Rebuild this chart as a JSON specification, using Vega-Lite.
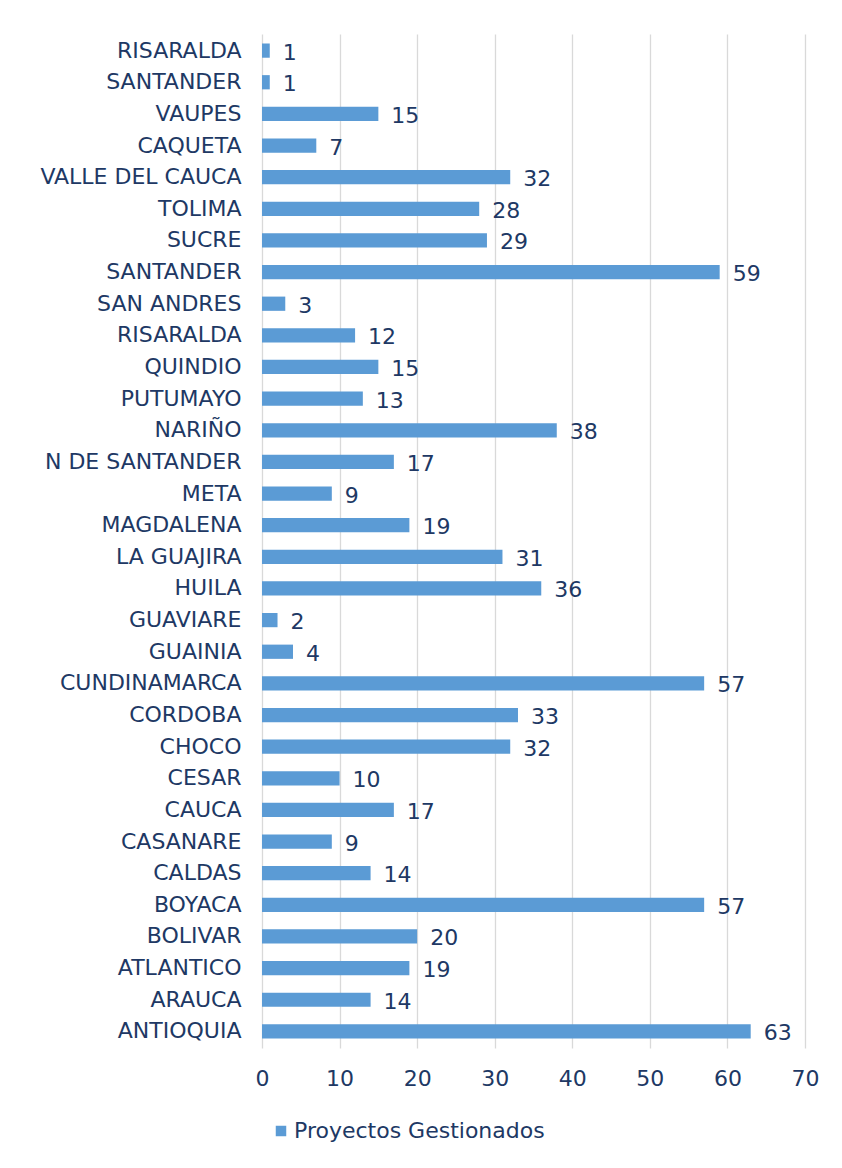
{
  "$schema": "https://vega.github.io/schema/vega-lite/v6.json",
  "autosize": "none",
  "width": 543,
  "height": 1014,
  "padding": {"left": 262, "top": 34, "right": 37, "bottom": 120},
  "background": "white",
  "config": {
    "font": "DejaVu Sans",
    "view": {"stroke": null},
    "axis": {"labelColor": "#203864", "labelFont": "DejaVu Sans"}
  },
  "data": {
    "values": [
      {"id": 1, "depto": "RISARALDA\u2002", "proyectos": 1},
      {"id": 2, "depto": "SANTANDER\u2002", "proyectos": 1},
      {"id": 3, "depto": "VAUPES", "proyectos": 15},
      {"id": 4, "depto": "CAQUETA", "proyectos": 7},
      {"id": 5, "depto": "VALLE DEL CAUCA", "proyectos": 32},
      {"id": 6, "depto": "TOLIMA", "proyectos": 28},
      {"id": 7, "depto": "SUCRE", "proyectos": 29},
      {"id": 8, "depto": "SANTANDER", "proyectos": 59},
      {"id": 9, "depto": "SAN ANDRES", "proyectos": 3},
      {"id": 10, "depto": "RISARALDA", "proyectos": 12},
      {"id": 11, "depto": "QUINDIO", "proyectos": 15},
      {"id": 12, "depto": "PUTUMAYO", "proyectos": 13},
      {"id": 13, "depto": "NARIÑO", "proyectos": 38},
      {"id": 14, "depto": "N DE SANTANDER", "proyectos": 17},
      {"id": 15, "depto": "META", "proyectos": 9},
      {"id": 16, "depto": "MAGDALENA", "proyectos": 19},
      {"id": 17, "depto": "LA GUAJIRA", "proyectos": 31},
      {"id": 18, "depto": "HUILA", "proyectos": 36},
      {"id": 19, "depto": "GUAVIARE", "proyectos": 2},
      {"id": 20, "depto": "GUAINIA", "proyectos": 4},
      {"id": 21, "depto": "CUNDINAMARCA", "proyectos": 57},
      {"id": 22, "depto": "CORDOBA", "proyectos": 33},
      {"id": 23, "depto": "CHOCO", "proyectos": 32},
      {"id": 24, "depto": "CESAR", "proyectos": 10},
      {"id": 25, "depto": "CAUCA", "proyectos": 17},
      {"id": 26, "depto": "CASANARE", "proyectos": 9},
      {"id": 27, "depto": "CALDAS", "proyectos": 14},
      {"id": 28, "depto": "BOYACA", "proyectos": 57},
      {"id": 29, "depto": "BOLIVAR", "proyectos": 20},
      {"id": 30, "depto": "ATLANTICO", "proyectos": 19},
      {"id": 31, "depto": "ARAUCA", "proyectos": 14},
      {"id": 32, "depto": "ANTIOQUIA", "proyectos": 63}
    ]
  },
  "encoding": {
    "y": {
      "field": "depto",
      "type": "nominal",
      "sort": {"field": "id", "order": "ascending"},
      "scale": {"paddingInner": 0.55, "paddingOuter": 0.3},
      "axis": {
        "title": null,
        "ticks": false,
        "domain": false,
        "labelFontSize": 22,
        "labelPadding": 21,
        "labelLimit": 300,
        "grid": false
      }
    },
    "x": {
      "field": "proyectos",
      "type": "quantitative",
      "scale": {"domain": [0, 70]},
      "axis": {
        "title": null,
        "values": [0, 10, 20, 30, 40, 50, 60, 70],
        "grid": true,
        "gridColor": "#D9D9D9",
        "gridWidth": 1.3,
        "domain": false,
        "ticks": false,
        "labelFlush": false,
        "labelFontSize": 22,
        "labelPadding": 20
      }
    }
  },
  "layer": [
    {
      "mark": {"type": "bar"},
      "encoding": {
        "color": {
          "datum": "Proyectos Gestionados",
          "type": "nominal",
          "scale": {"range": ["#5B9BD5"]},
          "legend": {
            "title": null,
            "orient": "none",
            "legendX": 8,
            "legendY": 1086,
            "symbolType": "square",
            "symbolSize": 110,
            "symbolStrokeWidth": 0,
            "labelFontSize": 22,
            "labelLimit": 400,
            "labelColor": "#203864",
            "labelOffset": 2
          }
        }
      }
    },
    {
      "mark": {
        "type": "text",
        "align": "left",
        "baseline": "middle",
        "dx": 13,
        "dy": 2,
        "fontSize": 22,
        "color": "#203864"
      },
      "encoding": {"text": {"field": "proyectos", "type": "quantitative"}}
    }
  ]
}
